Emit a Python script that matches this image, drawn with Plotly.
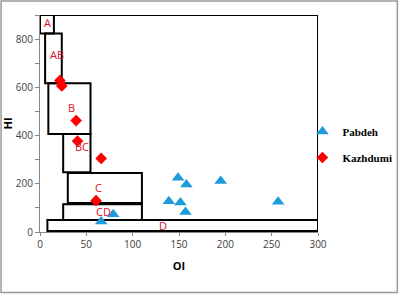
import plotly.graph_objects as go

# Data
pabdeh_oi = [149, 158, 139, 151.5, 157, 79, 66, 195, 257]
pabdeh_hi = [225, 197, 128, 122, 83, 74, 44, 212, 125]
kazhdumi_oi = [21.5, 23.5, 39, 40.5, 66, 60.5]
kazhdumi_hi = [628, 606, 462, 377, 305, 130]

# Zone boxes: name, x0, x1, y0, y1, label position
zone_names = ["A", "AB", "B", "BC", "C", "CD", "D"]
zone_x0 = [0, 5.5, 9, 25, 30, 25, 8]
zone_x1 = [15, 23.5, 54.5, 54.5, 110, 110, 300]
zone_y0 = [823, 617, 406, 248, 120, 50, 4]
zone_y1 = [900, 823, 617, 406, 245, 115, 50]
label_x = [8.5, 18, 34.5, 45, 63, 68, 133]
label_y = [868, 735, 515, 356, 183, 87, 28]

fig = go.Figure()

fig.add_trace(go.Scatter(
    x=pabdeh_oi, y=pabdeh_hi, mode="markers", name="<b>Pabdeh</b>", legendgroup="p",
    marker=dict(symbol="triangle-up", size=11, color="#1E9BDB"),
))
fig.add_trace(go.Scatter(
    x=kazhdumi_oi, y=kazhdumi_hi, mode="markers", name="<b>Kazhdumi</b>", legendgroup="k",
    marker=dict(symbol="diamond", size=9, color="#FF0000"),
))

for i in range(len(zone_names)):
    fig.add_shape(type="rect", xref="x", yref="y",
                  x0=zone_x0[i], x1=zone_x1[i], y0=zone_y0[i], y1=zone_y1[i],
                  line=dict(color="black", width=2), layer="below")
    fig.add_annotation(x=label_x[i], y=label_y[i], text=zone_names[i],
                       showarrow=False, xref="x", yref="y",
                       font=dict(family="Open Sans", size=11, color="#E0102A"))

# plot area top & right border
fig.add_shape(type="line", xref="x", yref="y", x0=0, x1=300, y0=900, y1=900,
              line=dict(color="black", width=2))
fig.add_shape(type="line", xref="x", yref="y", x0=300, x1=300, y0=0, y1=900,
              line=dict(color="black", width=2))
# outer chart border
fig.add_shape(type="rect", xref="paper", yref="paper",
              x0=-39/278.5, x1=(398-40)/278.5, y0=-(292-231.7)/216.7, y1=(231.7-1)/216.7,
              line=dict(color="#999999", width=1.5))

fig.update_layout(
    width=400, height=294,
    margin=dict(l=40, r=81.5, t=15, b=62.3, autoexpand=False),
    paper_bgcolor="white", plot_bgcolor="white",
    showlegend=True,
    legend=dict(x=0.944, y=0.53, xanchor="left", yanchor="top",
                font=dict(family="Liberation Serif", size=11, color="black"),
                itemwidth=30, tracegroupgap=7, bgcolor="rgba(0,0,0,0)"),
    font=dict(family="Open Sans", size=10, color="#404040"),
)
fig.update_xaxes(range=[0, 300], tickvals=[0, 50, 100, 150, 200, 250, 300],
                 showgrid=False, zeroline=False, showline=True, linecolor="#888888",
                 linewidth=1, ticks="outside", ticklen=3, tickcolor="#888888", automargin=False,
                 title=dict(text="<b>OI</b>", font=dict(family="Open Sans", size=11, color="black"), standoff=12))
fig.update_yaxes(range=[0, 900], tickvals=[0, 200, 400, 600, 800],
                 showgrid=False, zeroline=False, showline=True, linecolor="#888888",
                 linewidth=1, ticks="outside", ticklen=4, tickcolor="#888888", automargin=False,
                 minor=dict(tickvals=[100, 300, 500, 700, 900], ticks="outside", ticklen=4, tickcolor="#888888"),
                 title=dict(text="<b>HI</b>", font=dict(family="Open Sans", size=11, color="black"), standoff=6))

fig.write_html("out.html", config={"displayModeBar": False},
               post_script="document.body.style.margin='0';document.body.style.padding='0';")
